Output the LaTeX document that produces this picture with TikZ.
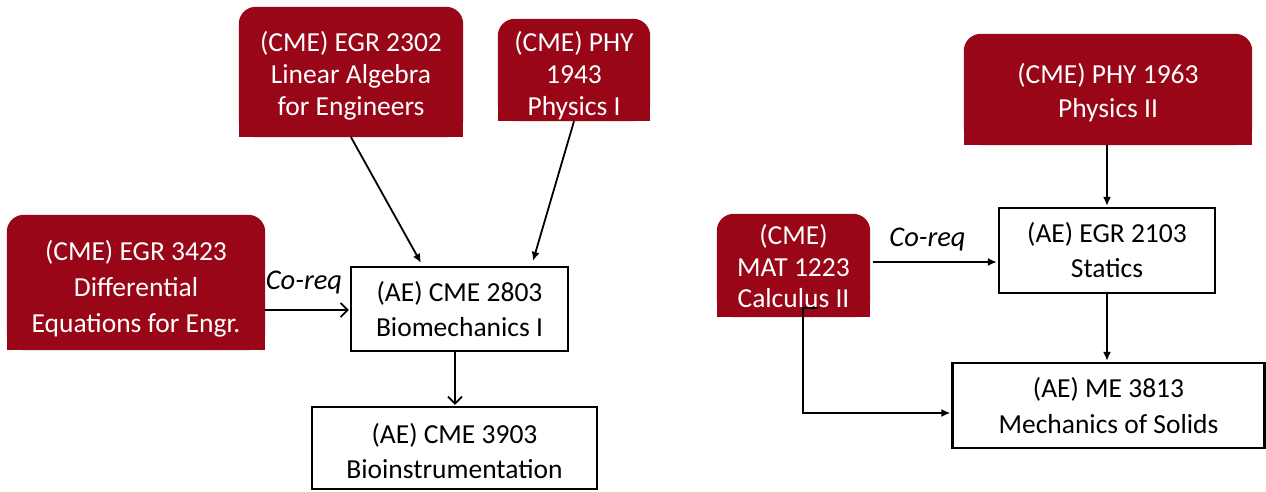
\documentclass[tikz,border=0pt]{standalone}
\usepackage{fontspec}
\setmainfont{Carlito}
\usetikzlibrary{arrows.meta,backgrounds}
\definecolor{cmered}{RGB}{152,6,23}
\begin{document}
\begin{tikzpicture}[x=1pt,y=-1pt,
  every node/.style={align=center, inner sep=0pt},
  box/.style={minimum width=#1, inner sep=0pt},
  redtext/.style={text=white, font=\fontsize{27.5}{#1}\selectfont},
  blacktext/.style={text=black, font=\fontsize{27.5}{#1}\selectfont},
  whitebox/.style={draw=black, line width=2.2pt, fill=white},
  solidarrow/.style={line width=1.8pt, -{Latex[length=9pt,width=8pt]}},
  openarrow/.style={line width=1.8pt, -{Straight Barb[length=7pt,width=14pt]}},
  lbl/.style={font=\fontsize{28.5}{32}\selectfont\itshape}]
\useasboundingbox (0,0) rectangle (1266,491);

% prerequisite courses (red, rounded top)
\node[box=224pt, minimum height=130pt] (la) at (351,72) {};
\node[box=152pt, minimum height=102pt] (p1) at (574,70) {};
\node[box=258pt, minimum height=135pt] (de) at (136,282.5) {};
\node[box=153pt, minimum height=103pt] (ca) at (793.5,265.5) {};
\node[box=288pt, minimum height=111pt] (p2) at (1108,89.5) {};

% red fills: rounded corners on top only
\begin{scope}[on background layer]
  \foreach \n in {la,p1,de,ca,p2}{
    \fill[cmered, rounded corners=17pt] (\n.south west) rectangle (\n.north east);
    \fill[cmered] (\n.south west) rectangle (\n.east);
  }
\end{scope}

\node[redtext=32pt] (la-t) at (351,75.5) {(CME) EGR 2302\\Linear Algebra\\for Engineers};
\node[redtext=32pt] (p1-t) at (574,75.5) {(CME) PHY\\1943\\Physics I};
\node[redtext=36pt] (de-t) at (136,288.5) {(CME) EGR 3423\\Differential\\Equations for Engr.};
\node[redtext=31.5pt] (ca-t) at (793.5,266.5) {(CME)\\MAT 1223\\Calculus II};
\node[redtext=34pt] (p2-t) at (1108,92.5) {(CME) PHY 1963\\Physics II};

% courses (white boxes)
\node[whitebox, box=217pt, minimum height=84pt] (bm) at (459.5,309) {};
\node[whitebox, box=285pt, minimum height=82pt] (bi) at (454.5,448) {};
\node[whitebox, box=216pt, minimum height=85pt] (st) at (1107,250.5) {};
\node[whitebox, box=312pt, minimum height=85pt] (ms) at (1108.5,405.5) {};

\node[blacktext=35pt] (bm-t) at (459.5,309) {(AE) CME 2803\\Biomechanics I};
\node[blacktext=35pt] (bi-t) at (454.5,451) {(AE) CME 3903\\Bioinstrumentation};
\node[blacktext=35pt] (st-t) at (1107,250.5) {(AE) EGR 2103\\Statics};
\node[blacktext=36pt] (ms-t) at (1108.5,406) {(AE) ME 3813\\Mechanics of Solids};

% left diagram connectors
\draw[solidarrow] (la.south) -- ([xshift=-38.5pt,yshift=3pt]bm.north);
\draw[solidarrow] (p1.south) -- ([xshift=73.5pt,yshift=5pt]bm.north);
\coordinate (deout) at ([yshift=-27.5pt]de.east);
\draw[openarrow] (deout) -- ([xshift=-1pt]deout -| bm.west);
\node[lbl] (cr1) at (304,283) {Co-req};
\coordinate (bmout) at ([xshift=0.5pt]bi.north |- bm.south);
\draw[openarrow] (bmout) -- ([yshift=1pt]bmout |- bi.north);

% right diagram connectors
\coordinate (caout) at ([xshift=3pt,yshift=3.5pt]ca.east);
\draw[solidarrow] (caout) -- ([xshift=-1pt]caout -| st.west);
\node[lbl] (cr2) at (927.5,240) {Co-req};
\draw[solidarrow] (st.north |- p2.south) -- ([yshift=1pt]st.north);
\draw[solidarrow] (st.south) -- ([yshift=1pt]st.south |- ms.north);
\coordinate (cain) at ([xshift=24.5pt,yshift=9pt]ca.south);
\draw[solidarrow] (cain) -- ++(-15,0) |- ([xshift=-1pt,yshift=-7.5pt]ms.west);
\end{tikzpicture}
\end{document}
